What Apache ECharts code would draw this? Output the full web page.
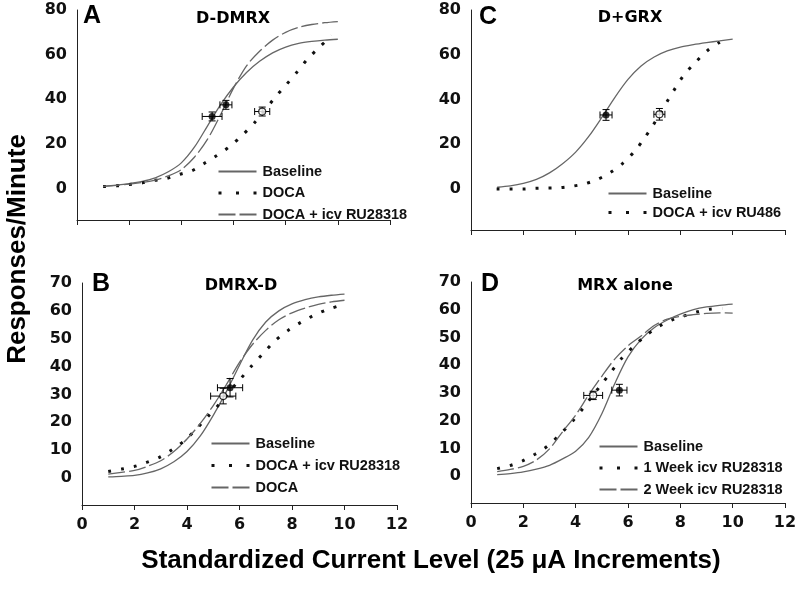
<!DOCTYPE html>
<html>
<head>
<meta charset="utf-8">
<title>Responses/Minute</title>
<script src="https://cdn.jsdelivr.net/npm/echarts@6/dist/echarts.min.js"></script>
<style>
html, body { margin: 0; padding: 0; background: #fff; }
#main { width: 800px; height: 591px; }
</style>
</head>
<body>
<div id="main"></div>
<script>
// x positions used by the fitted curves (half steps)
var curveX = [1, 1.5, 2, 2.5, 3, 3.5, 4, 4.5, 5, 5.5, 6, 6.5, 7, 7.5, 8, 8.5, 9, 9.5, 10];

// A : D-DMRX
var baselineA = [1.0, 1.5, 2.2, 3.2, 4.8, 7.5, 11.5, 18.5, 28, 37.5, 45.5, 52, 57, 60.8, 63.4, 65, 65.9, 66.5, 66.9];
var docaRuA = [1.0, 1.4, 2.0, 2.7, 3.8, 5.7, 8.5, 14, 22, 33, 45, 55, 61.5, 66.5, 70, 72.2, 73.5, 74.3, 74.8];
var docaA = [[1.0, 0.9], [1.52, 1.2], [1.97, 1.8], [2.48, 2.5], [2.95, 3.6], [3.43, 4.5], [3.92, 6.3],
  [4.41, 8.0], [4.87, 11.2], [5.35, 14.7], [5.86, 18.9], [6.33, 23.8], [6.79, 29.3], [7.2, 35],
  [7.59, 40.8], [8.0, 46.2], [8.42, 52.0], [8.84, 58.0], [9.29, 63.3], [9.76, 68.5]];
var filledA = [[5.18, 32.3, 0.38, 2.0], [5.71, 37.5, 0.23, 2.0]];   // x, y, x error, y error
var openA = [[7.1, 34.5, 0.29, 2.0]];

// B : DMRX-D
var baselineB = [0.4, 0.6, 0.9, 1.8, 3.3, 5.8, 9.5, 15, 22.5, 31, 40.5, 49.5, 56, 60, 62.5, 64, 65, 65.6, 66];
var docaB = [1.4, 2.0, 2.7, 4.2, 6.2, 9.5, 14, 19.5, 26, 33.5, 41.5, 48, 53, 56.8, 59.3, 61, 62.3, 63.2, 63.8];
var docaRuB = [[1.0, 2.3], [1.51, 3.2], [1.99, 4.1], [2.46, 5.6], [2.95, 7.4], [3.44, 10.2], [3.9, 13.4],
  [4.37, 17.7], [4.81, 22.2], [5.26, 26.8], [5.66, 31.5], [6.06, 35.8], [6.46, 40.2], [6.91, 44.8],
  [7.35, 49.2], [7.84, 52.9], [8.34, 55.9], [8.81, 58.3], [9.3, 60.3], [9.76, 61.7]];
var filledB = [[5.64, 32.4, 0.48, 3.3]];
var openB = [[5.38, 29.4, 0.48, 2.8]];

// C : D+GRX
var baselineC = [0.8, 1.4, 2.5, 4.3, 7.2, 11.3, 16.5, 23.5, 32, 41, 49, 55, 59, 61.7, 63.4, 64.5, 65.4, 66.2, 67];
var ru486C = [[0.98, 0], [1.46, 0], [1.97, 0], [2.44, 0.3], [2.91, 0.4], [3.4, 0.6], [3.89, 1.3],
  [4.37, 2.4], [4.83, 4.3], [5.31, 7.3], [5.8, 11.5], [6.27, 17.1], [6.62, 22.6], [6.94, 28.2],
  [7.25, 34], [7.53, 39.8], [7.82, 45.3], [8.14, 51.0], [8.57, 56.5], [9.03, 61.8], [9.51, 65.6]];
var filledC = [[5.16, 33.1, 0.23, 2.4]];
var openC = [[7.2, 33.4, 0.21, 2.6]];

// D : MRX alone
var baselineD = [0.5, 0.9, 1.5, 2.5, 3.9, 6.2, 9.0, 14, 22.5, 33.5, 43, 49.3, 53.5, 56.3, 58.4, 60, 61, 61.6, 62];
var week1D = [[1.0, 2.7], [1.49, 3.8], [1.97, 5.5], [2.45, 7.9], [2.92, 10.8], [3.4, 15.0], [3.85, 19.5],
  [4.27, 24.3], [4.63, 28.8], [4.99, 33.1], [5.38, 37.9], [5.76, 42.5], [6.23, 46.9], [6.71, 50.9],
  [7.2, 54.1], [7.67, 56.3], [8.15, 57.8], [8.62, 59.2], [9.13, 60.2], [9.6, 60.5]];
var week2D = [1.6, 2.4, 3.5, 5.8, 9.8, 16, 22, 29.3, 36, 42.3, 47, 50.5, 54.3, 56.6, 57.6, 58.2, 58.7, 58.9, 58.8];
var filledD = [[5.67, 31.0, 0.29, 2.1]];
var openD = [[4.67, 29.1, 0.36, 1.5]];

var FONT = 'Liberation Sans';
var TICKFONT = 'DejaVu Sans';

function pairs(xs, ys) {
  var out = [];
  for (var i = 0; i < ys.length; i++) out.push([xs[i], ys[i]]);
  return out;
}

var solidStyle = { color: '#666', width: 1.3, type: 'solid' };
var dashStyle = { color: '#666', width: 1.3, type: [17, 4] };
var dotStyle = { color: '#111', width: 3, type: [3, 10], cap: 'butt' };

function curve(name, g, data, style) {
  return {
    name: name, type: 'line', xAxisIndex: g, yAxisIndex: g, data: data,
    smooth: 0.3, symbol: 'none', lineStyle: style, itemStyle: { color: style.color },
    silent: true, z: 2
  };
}

// error bars with caps, drawn through the axis scales
function errorBars(g, data) {
  return {
    type: 'custom', xAxisIndex: g, yAxisIndex: g, data: data, z: 4, silent: true,
    encode: { x: 0, y: 1 },
    renderItem: function (params, api) {
      var x = api.value(0), y = api.value(1), dx = api.value(2), dy = api.value(3);
      var c = api.coord([x, y]);
      var l = api.coord([x - dx, y])[0], r = api.coord([x + dx, y])[0];
      var t = api.coord([x, y + dy])[1], b = api.coord([x, y - dy])[1];
      var cap = 3.5;
      var st = { stroke: '#000', lineWidth: 1 };
      function ln(x1, y1, x2, y2) {
        return { type: 'line', shape: { x1: x1, y1: y1, x2: x2, y2: y2 }, style: st };
      }
      return {
        type: 'group', children: [
          ln(l, c[1], r, c[1]), ln(l, c[1] - cap, l, c[1] + cap), ln(r, c[1] - cap, r, c[1] + cap),
          ln(c[0], t, c[0], b), ln(c[0] - cap, t, c[0] + cap, t), ln(c[0] - cap, b, c[0] + cap, b)
        ]
      };
    }
  };
}

function markers(g, data, filled) {
  return {
    type: 'scatter', xAxisIndex: g, yAxisIndex: g, data: data, symbol: 'circle', symbolSize: 7,
    silent: true, z: 5,
    itemStyle: filled ? { color: '#000' } : { color: '#fff', borderColor: '#000', borderWidth: 1.2 }
  };
}

function xAx(g, showLabels) {
  return {
    type: 'value', gridIndex: g, min: 0, max: 12, interval: 2,
    axisLine: { onZero: false, lineStyle: { color: '#222', width: 1 } },
    axisTick: { show: true, inside: false, length: 5, lineStyle: { color: '#222' } },
    axisLabel: { show: showLabels, margin: 12, fontFamily: TICKFONT, fontWeight: 'bold', fontSize: 16, color: '#111' },
    splitLine: { show: false }
  };
}

function yAx(g, min, max, labels) {
  return {
    type: 'value', gridIndex: g, min: min, max: max,
    axisLine: { show: true, onZero: false, lineStyle: { color: '#222', width: 1 } },
    axisTick: { show: false },
    axisLabel: { customValues: labels, margin: 10, fontFamily: TICKFONT, fontWeight: 'bold', fontSize: 16, color: '#111' },
    splitLine: { show: false }
  };
}

function legend(left, top, gap, names, dotted) {
  return {
    orient: 'vertical', left: left, top: top, itemGap: gap, itemWidth: 38, itemHeight: 14, padding: 0,
    selectedMode: false,
    itemStyle: { opacity: 0 },
    data: names.map(function (n) {
      var item = { name: n };
      if (dotted.indexOf(n) > -1) item.lineStyle = { type: [3, 14.5], width: 3, color: '#111' };
      return item;
    }),
    formatter: function (n) { return n.split('|')[1]; },
    textStyle: { fontFamily: FONT, fontWeight: 'bold', fontSize: 14.5, color: '#111', padding: [0, 0, 0, 1] }
  };
}

function label(text, x, y, size, family, rotate) {
  return {
    type: 'text', x: x, y: y, rotation: rotate || 0, silent: true,
    style: { text: text, fontFamily: family || FONT, fontWeight: 'bold', fontSize: size, fill: '#000',
      align: 'center', verticalAlign: 'middle' }
  };
}

var chart = echarts.init(document.getElementById('main'), null, { renderer: 'canvas' });

var option = {
  animation: false,
  backgroundColor: '#fff',
  grid: [
    { left: 77, top: 10, width: 313, height: 210 },
    { left: 82, top: 283, width: 315, height: 222 },
    { left: 471, top: 10, width: 314, height: 220 },
    { left: 471, top: 282, width: 314, height: 221 }
  ],
  xAxis: [xAx(0, false), xAx(1, true), xAx(2, false), xAx(3, true)],
  yAxis: [
    yAx(0, -14.1, 80, [0, 20, 40, 60, 80]),
    yAx(1, -9.7, 70, [0, 10, 20, 30, 40, 50, 60, 70]),
    yAx(2, -18.3, 80, [0, 20, 40, 60, 80]),
    yAx(3, -9.7, 70, [0, 10, 20, 30, 40, 50, 60, 70])
  ],
  legend: [
    legend(217, 164, 6.5, ['A|Baseline', 'A|DOCA', 'A|DOCA + icv RU28318'], ['A|DOCA']),
    legend(210, 436, 7, ['B|Baseline', 'B|DOCA + icv RU28318', 'B|DOCA'], ['B|DOCA + icv RU28318']),
    legend(607, 186, 4, ['C|Baseline', 'C|DOCA + icv RU486'], ['C|DOCA + icv RU486']),
    legend(598, 439, 6.5, ['D|Baseline', 'D|1 Week icv RU28318', 'D|2 Week icv RU28318'], ['D|1 Week icv RU28318'])
  ],
  // panel letters, panel titles and the shared axis titles
  graphic: [
    label('A', 92, 16, 25), label('B', 101, 284, 25), label('C', 488, 17, 25), label('D', 490, 284, 25),
    label('D-DMRX', 233, 19, 16, TICKFONT), label('DMRX-D', 241, 286, 16, TICKFONT),
    label('D+GRX', 630, 18, 16, TICKFONT), label('MRX alone', 625, 286, 16, TICKFONT),
    label('Standardized Current Level (25 \u03bcA Increments)', 431, 561, 26),
    label('Responses/Minute', 18, 249, 26, FONT, Math.PI / 2)
  ],
  series: [
    curve('A|Baseline', 0, pairs(curveX, baselineA), solidStyle),
    curve('A|DOCA', 0, docaA, dotStyle),
    curve('A|DOCA + icv RU28318', 0, pairs(curveX, docaRuA), dashStyle),
    errorBars(0, filledA.concat(openA)),
    markers(0, filledA, true),
    markers(0, openA, false),

    curve('B|Baseline', 1, pairs(curveX, baselineB), solidStyle),
    curve('B|DOCA + icv RU28318', 1, docaRuB, dotStyle),
    curve('B|DOCA', 1, pairs(curveX, docaB), dashStyle),
    errorBars(1, filledB.concat(openB)),
    markers(1, openB, false),
    markers(1, filledB, true),

    curve('C|Baseline', 2, pairs(curveX, baselineC), solidStyle),
    curve('C|DOCA + icv RU486', 2, ru486C, dotStyle),
    errorBars(2, filledC.concat(openC)),
    markers(2, filledC, true),
    markers(2, openC, false),

    curve('D|Baseline', 3, pairs(curveX, baselineD), solidStyle),
    curve('D|1 Week icv RU28318', 3, week1D, dotStyle),
    curve('D|2 Week icv RU28318', 3, pairs(curveX, week2D), dashStyle),
    errorBars(3, filledD.concat(openD)),
    markers(3, openD, false),
    markers(3, filledD, true)
  ]
};

chart.setOption(option);
</script>
</body>
</html>
